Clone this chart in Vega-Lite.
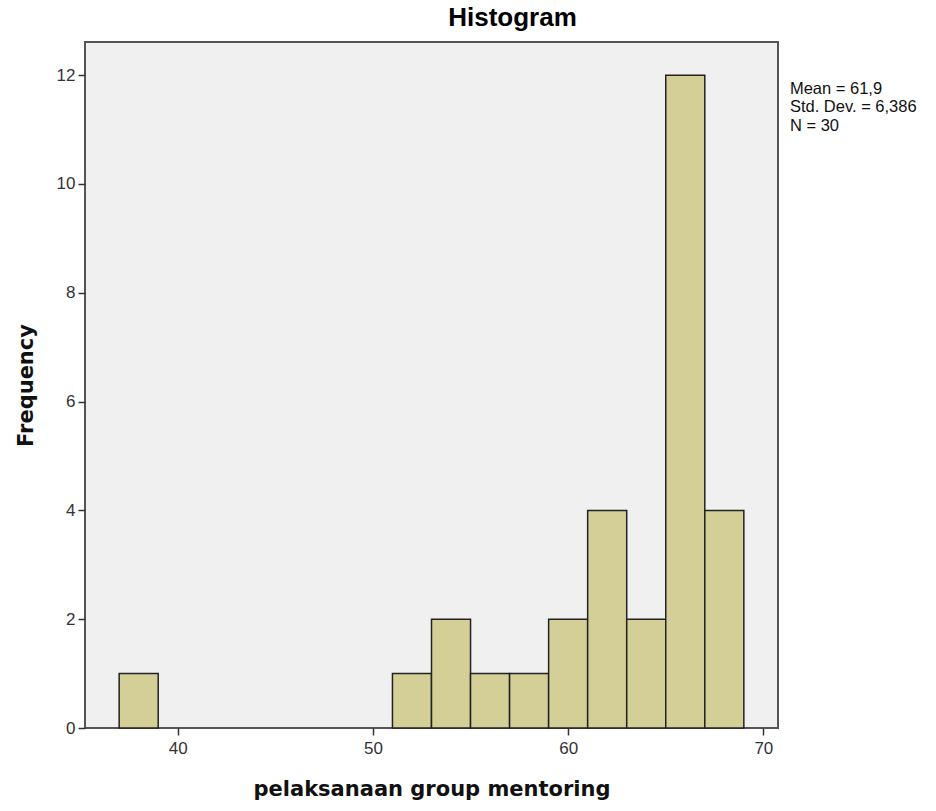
{
  "$schema": "https://vega.github.io/schema/vega-lite/v6.json",
  "width": 693,
  "height": 686,
  "autosize": {"type": "none"},
  "padding": {"left": 85, "top": 42, "right": 158, "bottom": 83},
  "background": "white",
  "title": {
    "text": "Histogram",
    "anchor": "middle",
    "frame": "group",
    "dx": 81,
    "font": "Liberation Sans",
    "fontSize": 26,
    "fontWeight": "bold",
    "color": "#000000",
    "baseline": "alphabetic",
    "offset": 14,
    "dy": 24
  },
  "config": {
    "view": {"fill": "#f0f0f0", "stroke": "#555555", "strokeWidth": 2},
    "axis": {
      "labelFont": "Liberation Sans",
      "labelFontSize": 17,
      "labelColor": "#333333",
      "titleFont": "DejaVu Sans",
      "titleFontWeight": "bold",
      "titleFontSize": 21,
      "titleColor": "#111111",
      "tickColor": "#333333",
      "tickWidth": 1.5,
      "tickSize": 7,
      "domain": false,
      "grid": false
    }
  },
  "layer": [
    {
      "data": {
        "values": [
          {"bin_start": 37, "bin_end": 39, "count": 1},
          {"bin_start": 51, "bin_end": 53, "count": 1},
          {"bin_start": 53, "bin_end": 55, "count": 2},
          {"bin_start": 55, "bin_end": 57, "count": 1},
          {"bin_start": 57, "bin_end": 59, "count": 1},
          {"bin_start": 59, "bin_end": 61, "count": 2},
          {"bin_start": 61, "bin_end": 63, "count": 4},
          {"bin_start": 63, "bin_end": 65, "count": 2},
          {"bin_start": 65, "bin_end": 67, "count": 12},
          {"bin_start": 67, "bin_end": 69, "count": 4}
        ]
      },
      "mark": {"type": "rect", "fill": "#d4cf97", "stroke": "#222222", "strokeWidth": 1.5},
      "encoding": {
        "x": {
          "field": "bin_start",
          "type": "quantitative",
          "scale": {"domain": [35.25, 70.75], "nice": false, "zero": false},
          "axis": {"values": [40, 50, 60, 70], "format": "d", "title": "pelaksanaan group mentoring", "labelPadding": 5, "titlePadding": 22}
        },
        "x2": {"field": "bin_end"},
        "y": {
          "field": "count",
          "type": "quantitative",
          "scale": {"domain": [0, 12.61], "nice": false},
          "axis": {"values": [0, 2, 4, 6, 8, 10, 12], "format": "d", "title": "Frequency", "labelPadding": 3, "titlePadding": 20}
        },
        "y2": {"datum": 0}
      }
    },
    {
      "data": {"values": [{"x": 71.36, "y": 11.9, "label": "Mean = 61,9\nStd. Dev. = 6,386\nN = 30"}]},
      "mark": {"type": "text", "align": "left", "baseline": "top", "lineBreak": "\n", "lineHeight": 18.5, "font": "Liberation Sans", "fontSize": 16.5, "color": "#111111", "clip": false},
      "encoding": {
        "x": {"field": "x", "type": "quantitative"},
        "y": {"field": "y", "type": "quantitative"},
        "text": {"field": "label"}
      }
    }
  ]
}
